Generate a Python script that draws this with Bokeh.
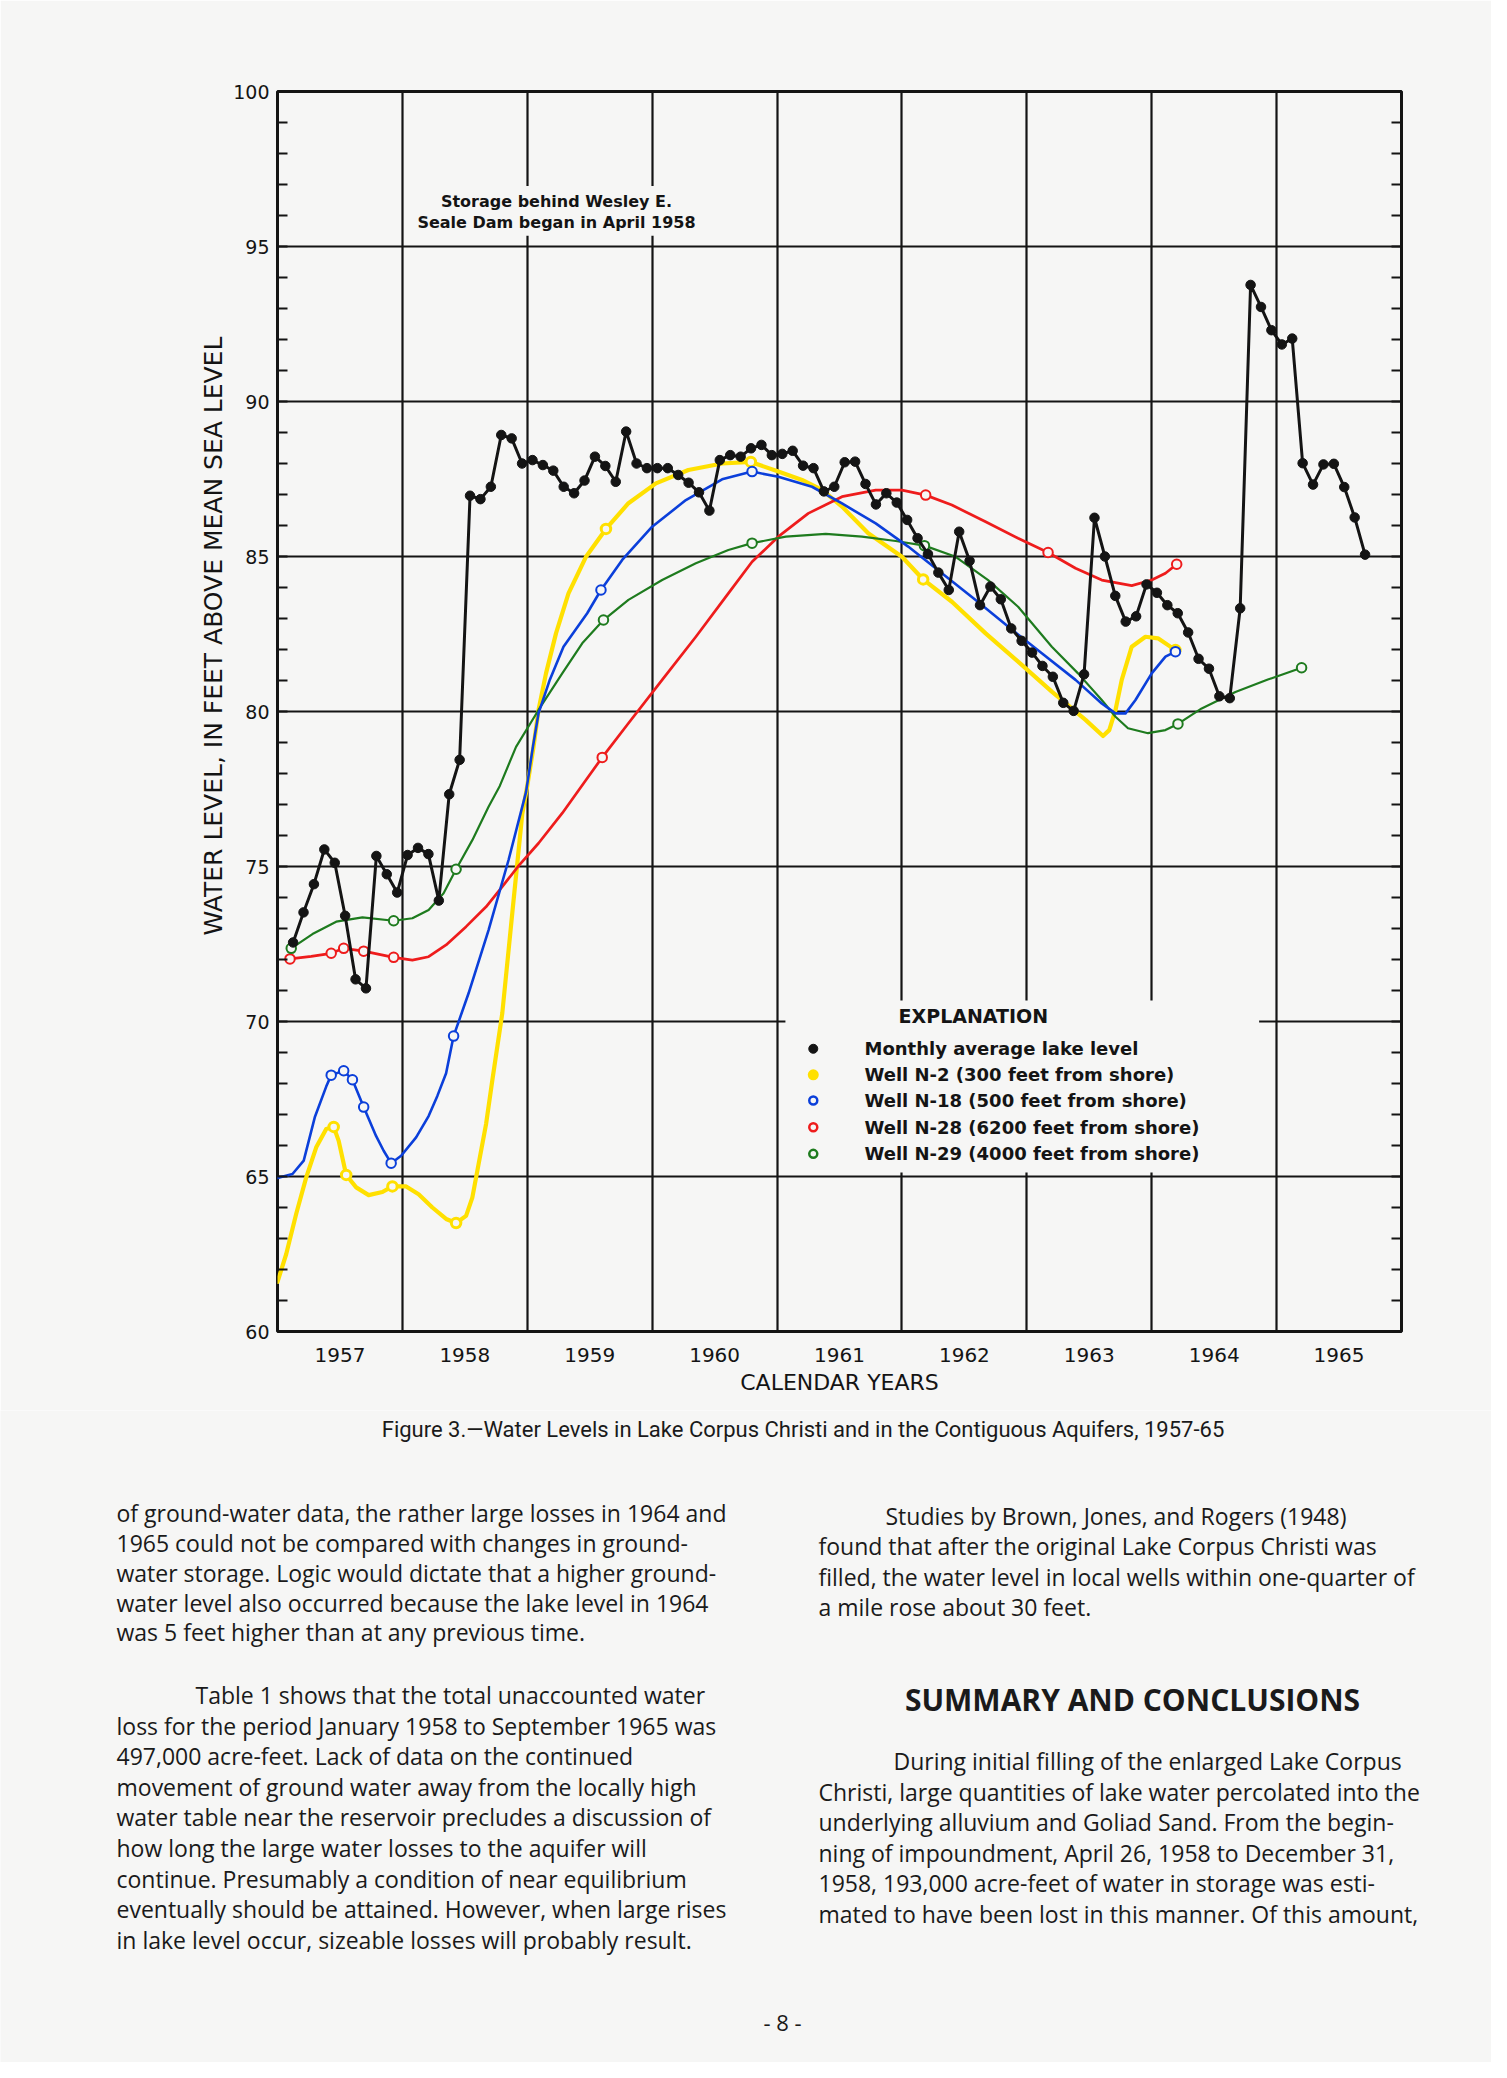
import math
from bokeh.plotting import figure
from bokeh.models import (Range1d, FixedTicker, SingleIntervalTicker, LinearAxis, Title,
                          Label, BoxAnnotation, ColumnDataSource, CustomJSTickFormatter)
from bokeh.layouts import column
from bokeh.embed import file_html
from bokeh.resources import INLINE
from bokeh.core.properties import value

# ---------------- data ----------------
years = [1957, 1958, 1959, 1960, 1961, 1962, 1963, 1964, 1965]
year_labels = ["1957", "1958", "1959", "1960", "1961", "1962", "1963", "1964", "1965"]
y_major = [60, 65, 70, 75, 80, 85, 90, 95, 100]

# Monthly average lake level, Feb 1957 .. Sep 1965
lake_first_year = 1957
lake_first_month = 2
lake_level = [
    72.55, 73.52, 74.43, 75.55, 75.12, 73.41, 71.36, 71.07, 75.34, 74.75, 74.16,   # 1957 Feb-Dec
    75.37, 75.60, 75.40, 73.90, 77.33, 78.44, 86.96, 86.85, 87.25, 88.92, 88.81, 88.00,  # 1958
    88.11, 87.95, 87.77, 87.25, 87.04, 87.45, 88.22, 87.92, 87.41, 89.03, 88.00, 87.85,  # 1959
    87.85, 87.85, 87.63, 87.38, 87.07, 86.48, 88.11, 88.27, 88.22, 88.49, 88.60, 88.27,  # 1960
    88.31, 88.41, 87.93, 87.85, 87.10, 87.25, 88.04, 88.06, 87.34, 86.68, 87.04, 86.74,  # 1961
    86.18, 85.59, 85.08, 84.48, 83.92, 85.80, 84.86, 83.43, 84.03, 83.62, 82.68, 82.28,  # 1962
    81.90, 81.47, 81.12, 80.28, 80.02, 81.20, 86.25, 85.00, 83.73, 82.90, 83.07, 84.10,  # 1963
    83.83, 83.43, 83.17, 82.55, 81.70, 81.38, 80.49, 80.43, 83.33, 93.76, 93.05, 92.30,  # 1964
    91.84, 92.03, 88.01, 87.32, 87.97, 87.99, 87.24, 86.26, 85.06,                       # 1965 Jan-Sep
]

# Well N-2 (300 feet from shore): curve as drawn, and measured points
n2_curve_x = [1957.00, 1957.07, 1957.15, 1957.23, 1957.31, 1957.39, 1957.45, 1957.49, 1957.55,
              1957.63, 1957.73, 1957.84, 1957.92, 1958.03, 1958.13, 1958.24, 1958.35, 1958.43,
              1958.51, 1958.56, 1958.60, 1958.67, 1958.72, 1958.80, 1958.88, 1958.96, 1959.00,
              1959.05, 1959.09, 1959.15, 1959.23, 1959.33, 1959.47, 1959.63, 1959.81, 1960.03,
              1960.29, 1960.56, 1960.79, 1961.01, 1961.20, 1961.36, 1961.52, 1961.73, 1962.00,
              1962.17, 1962.40, 1962.67, 1962.93, 1963.20, 1963.47, 1963.61, 1963.66, 1963.71,
              1963.76, 1963.84, 1963.95, 1964.05, 1964.19]
n2_curve_y = [61.60, 62.50, 63.80, 64.97, 65.94, 66.53, 66.60, 66.15, 65.05,
              64.65, 64.40, 64.50, 64.68, 64.68, 64.43, 64.00, 63.63, 63.50,
              63.73, 64.32, 65.18, 66.69, 68.10, 70.27, 73.50, 76.70, 77.60,
              78.86, 80.05, 81.23, 82.52, 83.81, 84.99, 85.89, 86.72, 87.36,
              87.79, 88.00, 88.05, 87.74, 87.47, 87.15, 86.61, 85.75, 84.99,
              84.26, 83.54, 82.52, 81.61, 80.64, 79.73, 79.21, 79.40, 80.05,
              81.02, 82.09, 82.41, 82.36, 81.98]
n2_obs_x = [1957.45, 1957.55, 1957.92, 1958.43, 1959.63, 1960.79, 1962.17, 1964.19]
n2_obs_y = [66.60, 65.05, 64.68, 63.50, 85.89, 88.05, 84.26, 81.98]

# Well N-18 (500 feet from shore)
n18_curve_x = [1957.00, 1957.12, 1957.21, 1957.30, 1957.39, 1957.43, 1957.53, 1957.60, 1957.69,
               1957.79, 1957.85, 1957.91, 1957.99, 1958.11, 1958.21, 1958.28, 1958.35, 1958.41,
               1958.53, 1958.69, 1958.85, 1958.99, 1959.045, 1959.09, 1959.18, 1959.29, 1959.48,
               1959.59, 1959.76, 1960.00, 1960.27, 1960.56, 1960.80, 1961.01, 1961.28, 1961.52,
               1961.79, 1962.05, 1962.32, 1962.59, 1962.85, 1963.12, 1963.39, 1963.60, 1963.71,
               1963.79, 1963.87, 1964.00, 1964.11, 1964.19]
n18_curve_y = [64.95, 65.08, 65.51, 66.93, 67.90, 68.27, 68.41, 68.12, 67.24,
               66.30, 65.83, 65.43, 65.67, 66.26, 66.95, 67.60, 68.33, 69.53,
               70.91, 72.95, 75.21, 77.40, 78.86, 79.94, 81.02, 82.09, 83.17,
               83.92, 84.89, 85.96, 86.82, 87.49, 87.74, 87.57, 87.25, 86.71,
               86.07, 85.32, 84.46, 83.60, 82.74, 81.88, 81.02, 80.26, 79.94,
               79.94, 80.37, 81.23, 81.77, 81.93]
n18_obs_x = [1957.43, 1957.53, 1957.60, 1957.69, 1957.91, 1958.41, 1959.59, 1960.80, 1964.19]
n18_obs_y = [68.27, 68.41, 68.12, 67.24, 65.43, 69.53, 83.92, 87.74, 81.93]

# Well N-28 (6200 feet from shore)
n28_curve_x = [1957.10, 1957.27, 1957.43, 1957.53, 1957.69, 1957.93, 1958.08, 1958.21, 1958.35,
               1958.51, 1958.67, 1958.80, 1958.93, 1959.09, 1959.28, 1959.47, 1959.60, 1959.81,
               1960.08, 1960.35, 1960.61, 1960.80, 1961.01, 1961.25, 1961.52, 1961.79, 1962.00,
               1962.19, 1962.40, 1962.67, 1962.93, 1963.17, 1963.39, 1963.60, 1963.84, 1964.00,
               1964.11, 1964.20]
n28_curve_y = [72.02, 72.10, 72.20, 72.36, 72.27, 72.07, 71.98, 72.09, 72.47,
               73.06, 73.70, 74.35, 75.02, 75.75, 76.72, 77.79, 78.52, 79.62,
               81.02, 82.41, 83.81, 84.83, 85.64, 86.39, 86.93, 87.14, 87.14,
               86.98, 86.66, 86.12, 85.59, 85.13, 84.62, 84.24, 84.06, 84.24,
               84.46, 84.75]
n28_obs_x = [1957.10, 1957.43, 1957.53, 1957.69, 1957.93, 1959.60, 1962.19, 1963.17, 1964.20]
n28_obs_y = [72.02, 72.20, 72.36, 72.27, 72.07, 78.52, 86.98, 85.13, 84.75]

# Well N-29 (4000 feet from shore)
n29_curve_x = [1957.11, 1957.28, 1957.47, 1957.68, 1957.93, 1958.08, 1958.21, 1958.33, 1958.43,
               1958.56, 1958.69, 1958.78, 1958.91, 1959.09, 1959.28, 1959.44, 1959.61, 1959.81,
               1960.08, 1960.35, 1960.61, 1960.80, 1961.07, 1961.39, 1961.68, 1961.95, 1962.18,
               1962.43, 1962.69, 1962.93, 1963.20, 1963.41, 1963.60, 1963.71, 1963.81, 1963.97,
               1964.11, 1964.21, 1964.40, 1964.67, 1964.93, 1965.20]
n29_curve_y = [72.36, 72.82, 73.22, 73.36, 73.25, 73.33, 73.60, 74.14, 74.91,
               75.85, 76.93, 77.60, 78.86, 80.05, 81.23, 82.20, 82.95, 83.60,
               84.24, 84.78, 85.21, 85.43, 85.64, 85.73, 85.64, 85.50, 85.35,
               84.99, 84.24, 83.38, 82.09, 81.23, 80.37, 79.83, 79.46, 79.30,
               79.40, 79.60, 80.10, 80.63, 81.03, 81.41]
n29_obs_x = [1957.11, 1957.93, 1958.43, 1959.61, 1960.80, 1962.18, 1964.21, 1965.20]
n29_obs_y = [72.36, 73.25, 74.91, 82.95, 85.43, 85.35, 79.60, 81.41]

legend_labels = ["Monthly average lake level",
                 "Well N-2 (300 feet from shore)",
                 "Well N-18 (500 feet from shore)",
                 "Well N-28 (6200 feet from shore)",
                 "Well N-29 (4000 feet from shore)"]

# ---------------- style ----------------
PAGE = "#f6f6f5"
BLACK = "#141414"
YELLOW = "#FFE000"
BLUE = "#0B3FDA"
RED = "#EE1C1C"
GREEN = "#1E7B1E"
CHART_FONT = "DejaVu Sans"

W = 1491
H1 = 1410
FRAME_L, FRAME_T, FRAME_W, FRAME_H = 277, 91, 1124, 1240
p = figure(width=W, height=H1, x_range=Range1d(1957, 1966), y_range=Range1d(60, 100),
           output_backend="svg", toolbar_location=None,
           min_border_left=FRAME_L, min_border_right=W - FRAME_L - FRAME_W,
           min_border_top=FRAME_T, min_border_bottom=H1 - FRAME_T - FRAME_H,
           background_fill_color=PAGE, border_fill_color=PAGE)
p.frame_align = False
p.outline_line_color = BLACK
p.outline_line_width = 3

# x axis: labels centred in each year, grid at year boundaries
xa = p.xaxis[0]
xa.ticker = FixedTicker(ticks=[y + 0.5 for y in years])
xa.major_label_overrides = {y + 0.5: s for y, s in zip(years, year_labels)}
xa.axis_line_color = None
xa.major_tick_line_color = None
xa.minor_tick_line_color = None
xa.major_label_text_font = CHART_FONT
xa.major_label_text_font_size = "20px"
xa.major_label_text_color = BLACK
xa.major_label_standoff = 10
xa.axis_label = "CALENDAR YEARS"
xa.axis_label_text_font = CHART_FONT
xa.axis_label_text_font_size = "22px"
xa.axis_label_text_font_style = "normal"
xa.axis_label_text_color = BLACK
xa.axis_label_standoff = 5
p.xgrid.ticker = FixedTicker(ticks=years[1:])
p.xgrid.grid_line_color = BLACK
p.xgrid.grid_line_width = 2.2

ya = p.yaxis[0]
ya.ticker = SingleIntervalTicker(interval=5, num_minor_ticks=5)
ya.axis_line_color = None
ya.major_tick_in = 0
ya.major_tick_out = 0
ya.minor_tick_in = 10
ya.minor_tick_out = 0
ya.minor_tick_line_color = BLACK
ya.minor_tick_line_width = 2
ya.major_label_text_font = CHART_FONT
ya.major_label_text_font_size = "19px"
ya.major_label_text_color = BLACK
ya.major_label_standoff = 8
p.ygrid.ticker = FixedTicker(ticks=y_major[1:-1])
p.ygrid.grid_line_color = BLACK
p.ygrid.grid_line_width = 2.2

ra = LinearAxis(ticker=SingleIntervalTicker(interval=5, num_minor_ticks=5),
                formatter=CustomJSTickFormatter(code="return ''"))
ra.axis_line_color = None
ra.major_tick_in = 0
ra.major_tick_out = 0
ra.minor_tick_in = 10
ra.minor_tick_out = 0
ra.minor_tick_line_color = BLACK
ra.minor_tick_line_width = 2
p.add_layout(ra, "right")

# y axis title, placed above the frame centre as in the original
p.add_layout(Title(text="WATER LEVEL, IN FEET ABOVE MEAN SEA LEVEL", align="left", offset=396,
                   text_font=CHART_FONT, text_font_size="25px", text_font_style="normal",
                   text_color=BLACK, standoff=6), "left")

# boxes that interrupt the grid behind the texts
p.add_layout(BoxAnnotation(left=1958.12, right=1960.34, bottom=95.35, top=96.95,
                           fill_color=PAGE, fill_alpha=1.0, line_alpha=0))
p.add_layout(BoxAnnotation(left=1961.067, right=1964.86, bottom=65.13, top=70.68,
                           fill_color=PAGE, fill_alpha=1.0, line_alpha=0))

# ---- well curves ----
def well(cx, cy, ox, oy, color, lw, mlw):
    p.line(cx, cy, line_color=color, line_width=lw, line_join="round", line_cap="round")
    p.scatter(ox, oy, marker="circle", size=9.5, fill_color=PAGE, line_color=color, line_width=mlw)

well(n2_curve_x, n2_curve_y, n2_obs_x, n2_obs_y, YELLOW, 4.2, 3)
well(n28_curve_x, n28_curve_y, n28_obs_x, n28_obs_y, RED, 2.7, 2)
well(n29_curve_x, n29_curve_y, n29_obs_x, n29_obs_y, GREEN, 2.2, 2)
well(n18_curve_x, n18_curve_y, n18_obs_x, n18_obs_y, BLUE, 2.6, 2)

# ---- lake level ----
lake_x = [lake_first_year + (lake_first_month - 1 + i + 0.5) / 12.0 for i in range(len(lake_level))]
lake_src = ColumnDataSource(dict(x=lake_x, y=lake_level))
p.line("x", "y", source=lake_src, line_color=BLACK, line_width=3, line_join="round")
p.scatter("x", "y", source=lake_src, marker="circle", size=9.5, fill_color=BLACK, line_color=BLACK)

# ---- annotation ----
for txt, yy in [("Storage behind Wesley E.", 96.46), ("Seale Dam began in April 1958", 95.78)]:
    p.add_layout(Label(x=1959.234, y=yy, text=txt, text_align="center", text_baseline="middle",
                       text_font=CHART_FONT, text_font_size="16px", text_font_style="bold",
                       text_color=BLACK))

# ---- explanation (legend) ----
leg_y = [69.12, 68.28, 67.45, 66.59, 65.73]
leg_key_x = 1961.29
leg_text_x = 1961.70
p.add_layout(Label(x=1962.572, y=70.19, text="EXPLANATION", text_align="center",
                   text_baseline="middle", text_font=CHART_FONT, text_font_size="19px",
                   text_font_style="bold", text_color=BLACK))
key_colors = [BLACK, YELLOW, BLUE, RED, GREEN]
key_fill = [BLACK, YELLOW, PAGE, PAGE, PAGE]
key_lw = [1, 2, 2.5, 2.5, 2.5]
keys = p.scatter(x=[leg_key_x] * 5, y=leg_y, marker="circle", size=[9, 9, 8, 8, 8],
                 fill_color=key_fill, line_color=key_colors, line_width=key_lw)
keys.level = "overlay"
for lab, yy in zip(legend_labels, leg_y):
    p.add_layout(Label(x=leg_text_x, y=yy, text=lab, text_align="left", text_baseline="middle",
                       text_font=CHART_FONT, text_font_size="18px", text_font_style="bold",
                       text_color=BLACK))

# ---------------- page text below the chart ----------------
H2 = 2062 - H1
t = figure(width=W, height=H2, x_range=Range1d(0, W), y_range=Range1d(H2, 0),
           output_backend="svg", toolbar_location=None, min_border=0,
           min_border_left=0, min_border_right=0, min_border_top=0, min_border_bottom=0,
           x_axis_location=None, y_axis_location=None,
           background_fill_color=PAGE, border_fill_color=PAGE)
t.frame_align = False
t.outline_line_color = None
t.grid.visible = False

caption = "Figure 3.\u2014Water Levels in Lake Corpus Christi and in the Contiguous Aquifers, 1957-65"

left_para1 = ["of ground-water data, the rather large losses in 1964 and",
              "1965 could not be compared with changes in ground-",
              "water storage. Logic would dictate that a higher ground-",
              "water level also occurred because the lake level in 1964",
              "was 5 feet higher than at any previous time."]
left_para2 = ["Table 1 shows that the total unaccounted water",
              "loss for the period January 1958 to September 1965 was",
              "497,000 acre-feet. Lack of data on the continued",
              "movement of ground water away from the locally high",
              "water table near the reservoir precludes a discussion of",
              "how long the large water losses to the aquifer will",
              "continue. Presumably a condition of near equilibrium",
              "eventually should be attained. However, when large rises",
              "in lake level occur, sizeable losses will probably result."]
right_para1 = ["Studies by Brown, Jones, and Rogers (1948)",
               "found that after the original Lake Corpus Christi was",
               "filled, the water level in local wells within one-quarter of",
               "a mile rose about 30 feet."]
heading = "SUMMARY AND CONCLUSIONS"
right_para2 = ["During initial filling of the enlarged Lake Corpus",
               "Christi, large quantities of lake water percolated into the",
               "underlying alluvium and Goliad Sand. From the begin-",
               "ning of impoundment, April 26, 1958 to December 31,",
               "1958, 193,000 acre-feet of water in storage was esti-",
               "mated to have been lost in this manner. Of this amount,"]
page_number = "- 8 -"

bx, by, bt = [], [], []
def para(lines, x0, indent_x, y0, dy):
    for i, ln in enumerate(lines):
        bx.append(indent_x if i == 0 else x0)
        by.append(y0 + i * dy - H1)
        bt.append(ln)

para(left_para1, 116, 116, 1512.7, 29.8)
para(left_para2, 116, 195, 1694.5, 30.6)
para(right_para1, 818, 885, 1515.0, 30.5)
para(right_para2, 818, 893, 1760.5, 30.6)
body_src = ColumnDataSource(dict(x=bx, y=by, text=bt))
t.text("x", "y", text="text", source=body_src, text_font=value("Open Sans"),
       text_font_size="23px", text_baseline="middle", text_align="left", text_color="#1a1a1a")

t.text(x=[802.5], y=[1428.8 - H1], text=[caption], text_font=value("Roboto"),
       text_font_size="22px", text_baseline="middle", text_align="center", text_color="#1a1a1a")
t.text(x=[1132], y=[1698.5 - H1], text=[heading], text_font=value("Open Sans"),
       text_font_size="30px", text_font_style="bold", text_baseline="middle", text_align="center",
       text_color="#1a1a1a")
t.text(x=[782], y=[2021 - H1], text=[page_number], text_font=value("Open Sans"),
       text_font_size="22px", text_baseline="middle", text_align="center", text_color="#1a1a1a")

layout = column(p, t, spacing=0)
open("out.html", "w").write(file_html(layout, INLINE))
